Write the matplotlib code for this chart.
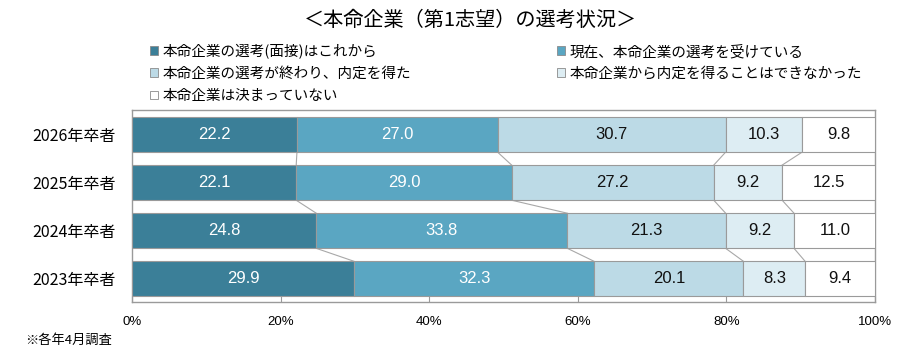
import matplotlib
matplotlib.use("Agg")
import matplotlib.pyplot as plt
from matplotlib.patches import Patch
import numpy as np

plt.rcParams['font.family'] = ['Noto Sans CJK JP', 'DejaVu Sans']

categories = ["2026年卒者", "2025年卒者", "2024年卒者", "2023年卒者"]
series_names = [
    "本命企業の選考(面接)はこれから",
    "現在、本命企業の選考を受けている",
    "本命企業の選考が終わり、内定を得た",
    "本命企業から内定を得ることはできなかった",
    "本命企業は決まっていない",
]
s1 = [22.2, 22.1, 24.8, 29.9]
s2 = [27.0, 29.0, 33.8, 32.3]
s3 = [30.7, 27.2, 21.3, 20.1]
s4 = [10.3, 9.2, 9.2, 8.3]
s5 = [9.8, 12.5, 11.0, 9.4]
series = [s1, s2, s3, s4, s5]
colors = ["#3b7f98", "#5aa6c2", "#bcdae6", "#ddedf3", "#ffffff"]
text_colors = ["white", "white", "#111111", "#111111", "#111111"]
xticks = [0, 20, 40, 60, 80, 100]
xticklabels = ["0%", "20%", "40%", "60%", "80%", "100%"]

W, H = 922, 363
fig = plt.figure(figsize=(W/100, H/100), dpi=100)
ax = fig.add_axes([132/W, 1-302/H, (875-132)/W, (302-110)/H])

y = np.arange(len(categories))
bh = 0.73
left = np.zeros(len(categories))
edge = "#9a9a9a"
for vals, c, tc in zip(series, colors, text_colors):
    vals = np.array(vals)
    ax.barh(y, vals, left=left, height=bh, color=c, edgecolor=edge, linewidth=0.8, zorder=3)
    for yi, l, v in zip(y, left, vals):
        ax.text(l + v/2, yi, f"{v:.1f}", ha="center", va="center", color=tc,
                fontsize=12, fontfamily=['Liberation Sans', 'DejaVu Sans'], zorder=4)
    left = left + vals
    # series lines
    if c != colors[-1]:
        for i in range(len(categories)-1):
            ax.plot([left[i], left[i+1]], [y[i] + bh/2, y[i+1] - bh/2],
                    color="#a8a8a8", linewidth=0.8, zorder=2)

ax.set_xlim(0, 100)
ax.set_ylim(3.48, -0.51)
ax.set_yticks(y)
ax.set_yticklabels(categories, fontsize=11.5)
ax.set_xticks(xticks)
ax.set_xticklabels(xticklabels, fontsize=9.5, fontfamily=['Liberation Sans', 'DejaVu Sans'])
ax.tick_params(axis="y", length=0, pad=12)
ax.tick_params(axis="x", length=4, color="#9a9a9a", pad=10, direction="in")
for sp in ax.spines.values():
    sp.set_color("#9a9a9a")
    sp.set_linewidth(1.0)

fig.text(470/W, 1-20/H, "＜本命企業（第1志望）の選考状況＞", ha="center", va="center", fontsize=14.5)

handles = [Patch(facecolor=c, edgecolor="#8a8a8a", linewidth=0.6) for c in colors]
order = [0, 2, 4, 1, 3]
leg = fig.legend([handles[i] for i in order], [series_names[i] for i in order],
                 ncol=2, loc="upper left", bbox_to_anchor=(150/W, 1-44/H),
                 frameon=False, fontsize=10.5, handlelength=0.55, handleheight=0.55,
                 handletextpad=0.3, columnspacing=10.0, labelspacing=0.55,
                 borderaxespad=0, borderpad=0)

fig.text(25/W, 1-340/H, "※各年4月調査", ha="left", va="center", fontsize=9.5)

fig.savefig("out.png", dpi=100)
